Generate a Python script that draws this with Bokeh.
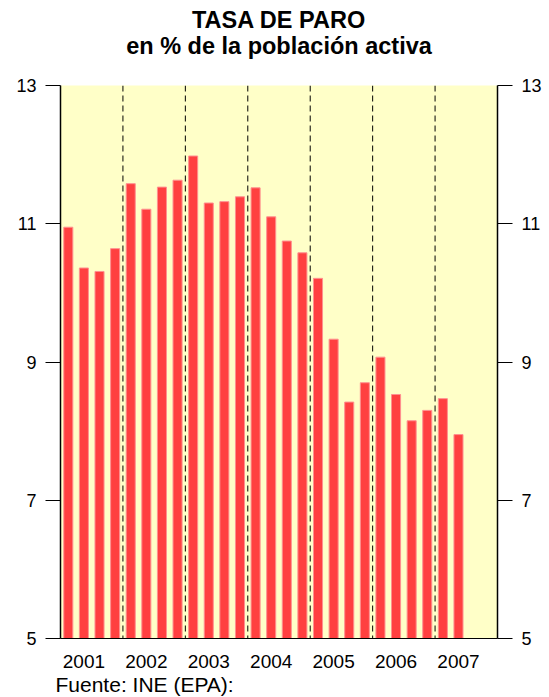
from bokeh.plotting import figure
from bokeh.models import LinearAxis, FixedTicker, Span, Title, Range1d
from bokeh.embed import file_html
from bokeh.resources import INLINE

years = ["2001", "2002", "2003", "2004", "2005", "2006", "2007"]
quarters_per_year = 4
paro = [10.95, 10.36, 10.31, 10.64,
        11.58, 11.21, 11.53, 11.63,
        11.98, 11.30, 11.32, 11.39,
        11.52, 11.10, 10.75, 10.58,
        10.21, 9.33, 8.42, 8.70,
        9.07, 8.53, 8.15, 8.30,
        8.47, 7.95]
y_ticks = [5, 7, 9, 11, 13]

FONT = "Liberation Sans"
n_slots = len(years) * quarters_per_year

p = figure(width=549, height=697, output_backend="svg", toolbar_location=None,
           x_range=Range1d(0, n_slots), y_range=Range1d(5, 13),
           min_border_left=60, min_border_right=52, min_border_top=85, min_border_bottom=59,
           y_axis_location=None, x_axis_location=None, title=None)
p.background_fill_color = "#FFFFC8"
p.border_fill_color = "white"
p.outline_line_color = None
p.grid.visible = False

sub = Title(text="en % de la población activa", align="center", text_font=FONT,
            text_font_size="23.5px", text_font_style="bold", text_color="black",
            standoff=54, padding=0)
main = Title(text="TASA DE PARO", align="center", text_font=FONT,
             text_font_size="23.5px", text_font_style="bold", text_color="black",
             standoff=-58, padding=0)
p.add_layout(sub, "above")
p.add_layout(main, "above")

xs = [i + 0.5 for i in range(len(paro))]
p.vbar(x=xs, top=paro, bottom=5, width=0.58, fill_color="#FF4040",
       line_color="#FF9090", line_width=1)

for k in range(1, len(years)):
    p.add_layout(Span(location=k * quarters_per_year, dimension="height",
                      line_color="black", line_dash="6 4", line_width=1))

def yaxis():
    ax = LinearAxis(ticker=FixedTicker(ticks=y_ticks))
    ax.major_tick_out = 15
    ax.major_tick_in = 0
    ax.minor_tick_line_color = None
    ax.major_label_standoff = 9
    ax.major_label_text_font = FONT
    ax.major_label_text_font_size = "18px"
    ax.major_label_text_color = "black"
    ax.axis_line_color = "black"
    ax.axis_line_width = 1.5
    ax.major_tick_line_color = "black"
    return ax

p.add_layout(yaxis(), "left")
p.add_layout(yaxis(), "right")

xticks = [k * quarters_per_year + 1.5 for k in range(len(years))]
xa = LinearAxis(ticker=FixedTicker(ticks=xticks),
                major_label_overrides={t: y for t, y in zip(xticks, years)})
xa.major_tick_line_color = None
xa.minor_tick_line_color = None
xa.axis_line_color = "black"
xa.major_label_standoff = 10
xa.major_label_text_font = FONT
xa.major_label_text_font_size = "19px"
xa.major_label_text_color = "black"
p.add_layout(xa, "below")

src = Title(text="Fuente: INE (EPA):", align="left", offset=-5,
            text_font=FONT, text_font_size="21px", text_font_style="normal",
            text_color="black", standoff=0, padding=0)
p.add_layout(src, "below")

open("out.html", "w").write(file_html(p, INLINE))
